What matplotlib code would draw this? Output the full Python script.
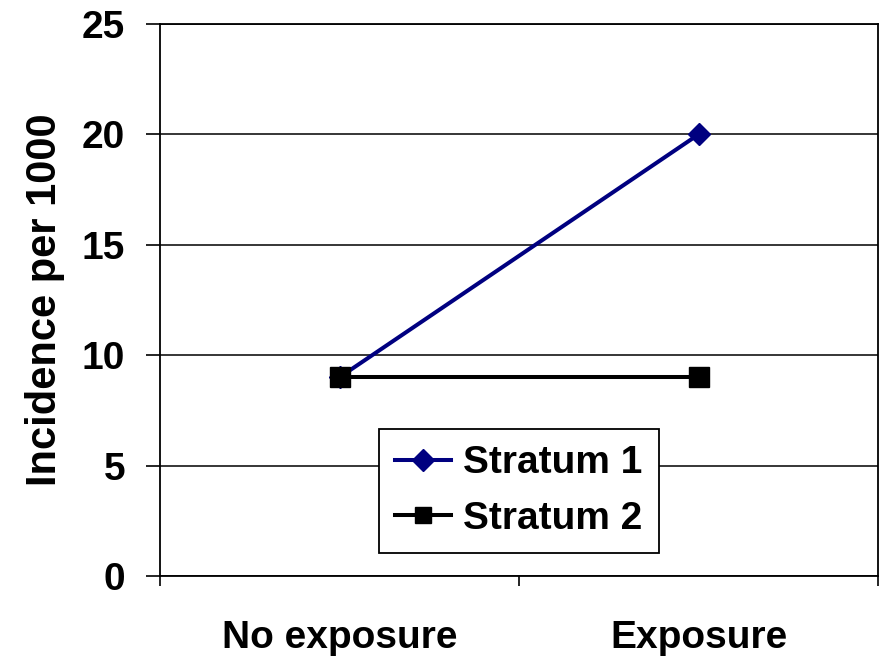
import numpy as np
import matplotlib.pyplot as plt

plt.rcParams['font.family'] = ['Liberation Sans', 'DejaVu Sans']
plt.rcParams['font.weight'] = 'bold'

categories = ['No exposure', 'Exposure']
stratum1 = [9, 20]
stratum2 = [9, 9]
yticks = [0, 5, 10, 15, 20, 25]

fig = plt.figure(figsize=(8.82, 6.65), dpi=100)
ax = fig.add_axes([0.1814, 0.1338, 0.8141, 0.8301])

x = np.arange(len(categories))
ax.plot(x, stratum1, '-', color='#000080', lw=2.9, marker='D', ms=11, label='Stratum 1')
ax.plot(x, stratum2, '-', color='black', lw=2.9, marker='s', ms=15, label='Stratum 2')

ax.set_xlim(-0.5, 1.5)
ax.set_ylim(0, 25)
ax.set_yticks(yticks)
ax.set_xticks([-0.5, 0.5, 1.5])
ax.set_xticklabels([])
ax.set_xticks(x, minor=True)
ax.set_xticklabels(categories, minor=True)
ax.tick_params(axis='x', which='minor', length=0, pad=32, labelsize=28)
ax.tick_params(axis='x', which='major', length=7, width=1.2, direction='out')
ax.tick_params(axis='y', length=10, width=1.2, direction='out', labelsize=28, pad=15)
ax.yaxis.grid(True, color='black', lw=1.1)
for s in ax.spines.values():
    s.set_linewidth(1.3)

ax.set_ylabel('Incidence per 1000', fontsize=30, fontweight='bold', labelpad=12)

leg = ax.legend(loc='lower left', bbox_to_anchor=(0.305, 0.0417, 0.39, 0.221),
                mode='expand', fontsize=28, frameon=True, fancybox=False,
                edgecolor='black', framealpha=1, handlelength=1.43, borderpad=0.42,
                labelspacing=0.5, handletextpad=0.3, borderaxespad=0)
leg.get_frame().set_linewidth(1.3)
leg.legend_handles[1].set_markersize(12)

plt.savefig('out.png')
